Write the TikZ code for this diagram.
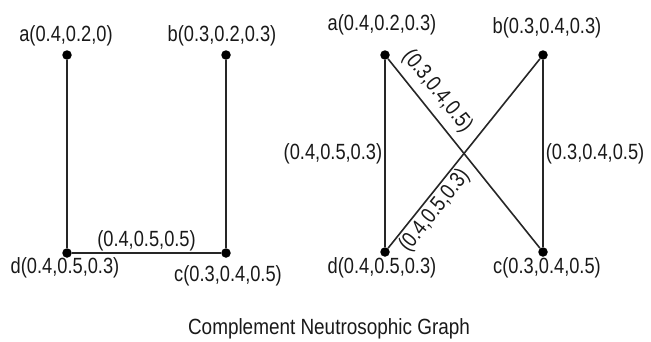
\documentclass[tikz,border=0pt]{standalone}
\usepackage{fontspec}
\setmainfont{Liberation Sans}[FakeStretch=0.83]
\begin{document}
\begin{tikzpicture}[x=1pt,y=-1pt,
  vtx/.style={circle,fill=black,inner sep=0pt,minimum size=9.5pt},
  edge/.style={draw=black!85,line width=1.6pt},
  txt/.style={inner sep=1pt,font=\fontsize{22}{24}\selectfont,text=black!90},
  captxt/.style={inner sep=1pt,font=\fontsize{22}{24}\selectfont\addfontfeature{FakeStretch=0.86},text=black!90}]
\useasboundingbox (0,0) rectangle (651,341);
% left graph
\node[vtx] (a1) at (67,55) {};
\node[vtx] (b1) at (226,55) {};
\node[vtx] (d1) at (67,253) {};
\node[vtx] (c1) at (226,253) {};
\draw[edge] (a1) -- (d1);
\draw[edge] (b1) -- (c1);
\draw[edge] (d1) -- node[txt,above=0pt] (e1) {(0.4,0.5,0.5)} (c1);
\node[txt] (la1) at (66,36) {a(0.4,0.2,0)};
\node[txt] (lb1) at (222,36) {b(0.3,0.2,0.3)};
\node[txt] (ld1) at (65,268) {d(0.4,0.5,0.3)};
\node[txt] (lc1) at (228,276) {c(0.3,0.4,0.5)};
% right graph
\node[vtx] (a2) at (385,55) {};
\node[vtx] (b2) at (543,55) {};
\node[vtx] (d2) at (385,252) {};
\node[vtx] (c2) at (543,252) {};
\draw[edge] (a2) -- node[txt,left=1pt] (e2) {(0.4,0.5,0.3)} (d2);
\draw[edge] (b2) -- node[txt,right=1pt] (e3) {(0.3,0.4,0.5)} (c2);
\draw[edge] (a2) -- node[txt,sloped,above=6pt,pos=0.23] (e4) {(0.3,0.4,0.5)} (c2);
\draw[edge] (d2) -- node[txt,sloped,below=1pt,pos=0.24] (e5) {(0.4,0.5,0.3)} (b2);
\node[txt] (la2) at (382,25) {a(0.4,0.2,0.3)};
\node[txt] (lb2) at (547,28) {b(0.3,0.4,0.3)};
\node[txt] (ld2) at (382,268) {d(0.4,0.5,0.3)};
\node[txt] (lc2) at (547,268) {c(0.3,0.4,0.5)};
\node[captxt] (title) at (329,329) {Complement Neutrosophic Graph};
\end{tikzpicture}
\end{document}
